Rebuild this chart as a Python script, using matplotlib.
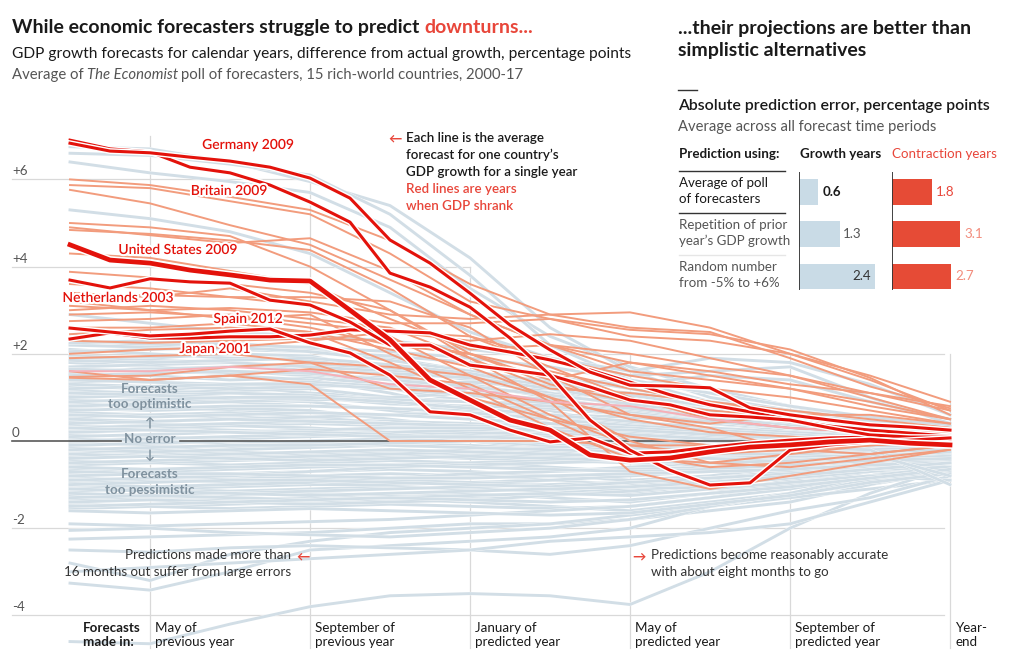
import matplotlib
matplotlib.use("Agg")
import matplotlib.pyplot as plt
import matplotlib.patheffects as pe

W, H = 1022, 663
plt.rcParams['font.family'] = ['Lato', 'DejaVu Sans']

# ---------------- data ----------------
# x = months, 0 = March of previous year ... 22 = year-end
MONTHS = list(range(23))
MONTHS_COARSE = [0, 2, 4, 6, 8, 10, 12, 14, 16, 18, 20, 22]

tick_months = [2, 6, 10, 14, 18, 22]
tick_labels = [("May of", "previous year"), ("September of", "previous year"),
               ("January of", "predicted year"), ("May of", "predicted year"),
               ("September of", "predicted year"), ("Year-", "end")]
y_ticks = [6, 4, 2, 0, -2, -4]
y_tick_labels = ["+6", "+4", "+2", "0", "-2", "-4"]

germany_2009 = [6.83, 6.65, 6.61, 6.51, 6.42, 6.28, 6.03, 5.57, 4.61, 4.08, 3.39, 2.66, 2.09, 1.58, 1.28, 1.26, 1.22, 0.76, 0.60, 0.48, 0.37, 0.32, 0.25]
britain_2009 = [6.90, 6.70, 6.63, 6.28, 6.15, 5.87, 5.48, 5.02, 3.85, 3.53, 3.07, 2.36, 1.51, 0.48, -0.21, -0.67, -1.01, -0.96, -0.21, -0.09, -0.02, 0.02, 0.07]
us_2009 = [4.50, 4.15, 4.08, 3.92, 3.81, 3.69, 3.67, 3.00, 2.32, 1.40, 0.94, 0.48, 0.25, -0.32, -0.44, -0.39, -0.25, -0.14, -0.09, -0.02, 0.02, -0.05, -0.09]
netherlands_2003 = [3.69, 3.51, 3.72, 3.65, 3.62, 3.23, 3.12, 2.73, 2.20, 2.20, 1.74, 1.63, 1.51, 1.24, 0.94, 0.83, 0.60, 0.55, 0.48, 0.30, 0.14, 0.09, 0.09]
spain_2012 = [2.59, 2.50, 2.41, 2.45, 2.52, 2.57, 2.25, 2.02, 1.51, 0.67, 0.60, 0.25, -0.02, 0.07, -0.28, -0.25, -0.14, -0.05, 0.02, 0.07, 0.09, 0.07, 0.02]
japan_2001 = [2.34, 2.48, 2.36, 2.36, 2.39, 2.39, 2.43, 2.55, 2.52, 2.48, 2.20, 2.04, 1.86, 1.63, 1.35, 1.06, 0.83, 0.67, 0.48, 0.34, 0.25, 0.18, 0.11]

# other contraction years (every two months)
contraction_other = [
    [6.00, 5.87, 5.60, 5.30, 4.60, 3.60, 2.90, 2.60, 2.50, 1.90, 1.25, 0.75],
    [5.87, 5.80, 5.50, 5.20, 4.30, 3.20, 2.80, 2.55, 2.45, 2.10, 1.45, 0.60],
    [5.76, 5.45, 4.95, 4.50, 3.70, 2.90, 2.20, 1.60, 1.40, 1.20, 0.90, 0.50],
    [4.90, 4.72, 4.54, 4.65, 3.90, 2.90, 2.20, 1.80, 1.50, 1.20, 0.80, 0.50],
    [4.84, 4.75, 4.60, 4.38, 3.50, 2.40, 1.90, 1.50, 1.20, 1.00, 0.70, 0.40],
    [3.88, 3.75, 3.60, 3.40, 3.00, 2.00, 1.30, 0.90, 0.70, 0.55, 0.40, 0.30],
    [3.40, 3.30, 3.50, 3.20, 2.90, 2.80, 2.90, 2.95, 2.60, 2.00, 1.50, 0.90],
    [3.10, 3.00, 3.05, 2.95, 2.70, 2.70, 2.80, 2.40, 2.30, 2.00, 1.40, 0.70],
    [2.90, 2.95, 2.85, 2.60, 2.20, 2.00, 1.60, 1.20, 0.90, 0.60, 0.40, 0.25],
    [2.75, 2.80, 2.90, 2.70, 2.50, 2.30, 2.45, 2.30, 1.90, 1.50, 1.00, 0.50],
    [2.45, 2.55, 2.60, 2.50, 1.80, 1.00, 0.50, 0.10, -0.10, -0.20, -0.10, 0.00],
    [1.45, 1.40, 1.50, 1.30, 0.00, 0.00, 0.00, -0.10, -0.10, 0.00, 0.10, 0.05],
    [1.90, 1.95, 2.00, 1.80, 1.20, 1.10, 0.90, 0.60, 0.30, -0.20, -0.30, -0.10],
    [1.60, 1.40, 1.50, 1.65, 1.50, 1.30, 0.50, -0.30, -0.60, -0.50, -0.30, -0.10],
    [1.47, 1.50, 1.70, 1.80, 1.70, 1.50, 1.00, 0.50, 0.20, 0.10, 0.00, 0.00],
    [2.60, 2.60, 2.70, 2.50, 2.10, 1.70, 1.00, 0.00, -0.50, -0.60, -0.40, -0.20],
    [3.00, 3.10, 3.00, 2.80, 2.60, 1.90, 0.90, -0.70, -1.10, -0.80, -0.50, -0.20],
    [3.60, 3.50, 3.30, 3.10, 2.40, 1.50, 0.60, -0.10, -0.30, -0.20, 0.00, 0.10],
    [5.00, 4.90, 4.70, 4.00, 3.00, 1.90, 1.20, 1.10, 0.90, 0.70, 0.50, 0.30],
    [4.30, 4.20, 3.90, 3.60, 2.80, 2.10, 2.20, 2.00, 1.70, 1.50, 1.10, 0.80],
    [3.30, 3.35, 3.30, 3.30, 3.20, 2.60, 1.50, 0.60, 0.40, 0.60, 0.60, 0.40],
    [2.00, 2.10, 2.15, 2.30, 2.50, 2.40, 1.70, 1.00, 0.50, 0.30, 0.20, 0.20],
    [2.30, 2.25, 2.30, 2.35, 2.30, 2.00, 1.40, 1.80, 1.60, 1.30, 1.10, 0.70],
    [3.20, 3.00, 2.80, 2.90, 2.00, 1.20, 0.30, -0.40, -0.50, -0.30, -0.10, 0.00],
]
contraction_pink = [1.60, 1.60, 1.70, 1.60, 1.30, 1.20, 0.90, 0.80, 0.50, 0.30, 0.20, 0.10]

growth_years = [
    [6.40, 6.15, 5.95, 5.70, 4.90, 3.50, 2.40, 1.70, 1.20, 0.80, 0.50, 0.30],
    [6.75, 6.70, 6.40, 5.95, 5.40, 4.20, 2.60, 1.60, 1.00, 0.70, 0.40, 0.20],
    [6.60, 6.55, 6.35, 6.10, 5.20, 3.80, 2.20, 1.40, 0.90, 0.50, 0.30, 0.10],
    [5.30, 5.10, 4.80, 4.30, 3.40, 2.50, 1.90, 1.50, 1.60, 1.70, 1.00, 0.40],
    [2.90, 2.70, 2.50, 2.40, 2.30, 2.10, 1.90, 1.60, 1.90, 1.80, 1.30, 0.60],
    [2.30, 2.20, 2.25, 2.10, 1.90, 1.60, 1.30, 1.40, 1.10, 0.80, 0.50, 0.30],
    [2.10, 2.00, 1.90, 1.85, 1.70, 1.50, 1.20, 0.90, 0.60, 0.40, 0.30, 0.20],
    [1.95, 1.90, 2.00, 1.95, 1.60, 1.10, 0.80, 0.60, 0.50, 0.40, 0.25, 0.10],
    [1.80, 1.70, 1.60, 1.50, 1.45, 1.30, 1.00, 0.70, 0.45, 0.30, 0.20, 0.05],
    [1.70, 1.75, 1.80, 1.60, 1.20, 0.90, 0.70, 0.30, 0.10, 0.00, -0.05, -0.10],
    [1.55, 1.50, 1.40, 1.45, 1.30, 1.20, 1.10, 1.00, 0.80, 0.50, 0.35, 0.25],
    [1.45, 1.35, 1.25, 1.10, 1.00, 0.90, 0.60, 0.30, 0.20, 0.10, 0.00, -0.05],
    [1.35, 1.40, 1.50, 1.40, 1.10, 0.70, 0.40, 0.20, 0.10, 0.05, 0.10, 0.00],
    [1.25, 1.20, 1.10, 1.00, 0.85, 0.80, 0.75, 0.60, 0.40, 0.25, 0.15, 0.10],
    [1.15, 1.10, 1.15, 1.20, 1.00, 0.60, 0.20, -0.10, -0.20, -0.20, -0.10, -0.10],
    [1.05, 1.00, 0.90, 0.80, 0.75, 0.70, 0.50, 0.40, 0.30, 0.20, 0.10, 0.05],
    [0.95, 0.90, 0.95, 0.90, 0.70, 0.50, 0.30, 0.10, 0.00, -0.10, -0.15, -0.20],
    [0.85, 0.80, 0.70, 0.65, 0.60, 0.55, 0.60, 0.55, 0.40, 0.30, 0.20, 0.15],
    [0.75, 0.70, 0.75, 0.70, 0.50, 0.30, 0.10, -0.10, -0.30, -0.35, -0.30, -0.25],
    [0.65, 0.60, 0.55, 0.50, 0.45, 0.40, 0.30, 0.20, 0.10, 0.10, 0.05, 0.00],
    [0.55, 0.60, 0.65, 0.55, 0.40, 0.20, 0.00, -0.20, -0.40, -0.45, -0.35, -0.30],
    [0.45, 0.40, 0.35, 0.40, 0.35, 0.30, 0.25, 0.15, 0.05, 0.00, -0.05, -0.05],
    [0.35, 0.30, 0.25, 0.20, 0.20, 0.15, 0.10, 0.00, -0.10, -0.15, -0.10, -0.10],
    [0.25, 0.30, 0.35, 0.30, 0.20, 0.00, -0.20, -0.35, -0.40, -0.30, -0.20, -0.15],
    [0.15, 0.10, 0.05, 0.10, 0.15, 0.20, 0.15, 0.10, 0.05, 0.05, 0.00, 0.00],
    [0.05, 0.00, -0.05, 0.00, 0.05, 0.00, -0.10, -0.20, -0.25, -0.20, -0.15, -0.10],
    [-0.05, -0.10, -0.15, -0.10, -0.05, -0.10, -0.20, -0.30, -0.35, -0.40, -0.30, -0.20],
    [-0.15, -0.20, -0.10, -0.05, 0.00, 0.05, 0.10, 0.05, 0.00, -0.05, -0.05, -0.05],
    [-0.25, -0.30, -0.35, -0.30, -0.35, -0.40, -0.45, -0.50, -0.55, -0.50, -0.40, -0.30],
    [-0.35, -0.30, -0.25, -0.30, -0.25, -0.20, -0.15, -0.10, -0.20, -0.25, -0.20, -0.15],
    [-0.45, -0.50, -0.55, -0.50, -0.45, -0.50, -0.60, -0.70, -0.60, -0.50, -0.40, -0.35],
    [-0.55, -0.50, -0.45, -0.40, -0.35, -0.30, -0.35, -0.40, -0.30, -0.20, -0.10, -0.05],
    [-0.65, -0.70, -0.75, -0.70, -0.65, -0.70, -0.80, -0.90, -0.80, -0.60, -0.50, -0.40],
    [-0.75, -0.70, -0.65, -0.60, -0.55, -0.50, -0.45, -0.40, -0.35, -0.30, -0.25, -0.20],
    [-0.85, -0.90, -0.85, -0.80, -0.75, -0.80, -0.90, -1.00, -0.90, -0.70, -0.60, -0.55],
    [-0.95, -0.90, -0.95, -1.00, -0.90, -0.80, -0.70, -0.60, -0.50, -0.40, -0.30, -0.25],
    [-1.05, -1.10, -1.15, -1.10, -1.05, -1.10, -1.15, -1.20, -1.00, -0.80, -0.70, -0.75],
    [-1.15, -1.10, -1.05, -1.00, -1.00, -0.95, -0.90, -0.80, -0.70, -0.60, -0.50, -0.40],
    [-1.25, -1.30, -1.35, -1.30, -1.25, -1.20, -1.30, -1.40, -1.20, -0.90, -0.60, -0.35],
    [-1.35, -1.30, -1.25, -1.20, -1.25, -1.30, -1.20, -1.10, -0.95, -0.80, -0.90, -0.60],
    [-1.45, -1.50, -1.45, -1.40, -1.35, -1.40, -1.50, -1.60, -1.40, -1.20, -1.00, -0.70],
    [-1.55, -1.50, -1.55, -1.50, -1.45, -1.50, -1.55, -1.50, -1.30, -1.00, -0.70, -0.45],
    [-1.90, -1.95, -1.90, -1.85, -1.80, -1.70, -1.60, -1.50, -1.30, -1.10, -0.80, -0.50],
    [-2.25, -2.20, -2.15, -2.10, -2.00, -1.90, -1.90, -1.80, -1.60, -1.40, -1.00, -0.60],
    [-2.80, -3.20, -2.60, -2.30, -2.10, -2.00, -1.90, -1.70, -1.50, -1.30, -1.10, -0.90],
    [-3.26, -3.42, -3.00, -2.50, -2.40, -2.30, -2.20, -2.00, -1.50, -1.20, -0.90, -0.70],
    [-4.60, -4.65, -4.20, -3.80, -3.55, -3.50, -3.55, -3.75, -3.00, -2.00, -1.20, -0.60],
    [-2.50, -2.55, -2.45, -2.40, -2.45, -2.50, -2.60, -2.40, -2.00, -1.60, -1.30, -0.80],
    [-3.00, -2.90, -2.80, -2.70, -2.60, -2.50, -2.30, -2.20, -2.10, -1.90, -1.40, -0.90],
    [-2.05, -2.00, -2.10, -2.15, -2.20, -2.10, -2.00, -1.80, -1.50, -1.20, -0.80, -0.40],
    [2.20, 2.15, 2.10, 2.05, 1.95, 1.80, 1.50, 1.20, 0.90, 0.60, 0.40, 0.25],
    [1.60, 1.65, 1.70, 1.75, 1.65, 1.40, 1.10, 0.80, 0.60, 0.50, 0.40, 0.30],
    [1.00, 1.05, 1.10, 1.05, 0.95, 0.90, 0.85, 0.70, 0.55, 0.45, 0.30, 0.20],
    [0.50, 0.45, 0.50, 0.55, 0.60, 0.65, 0.50, 0.30, 0.10, 0.00, -0.10, -0.15],
    [0.00, 0.05, 0.10, 0.15, 0.20, 0.25, 0.30, 0.20, 0.10, 0.00, -0.05, -0.10],
    [-0.50, -0.45, -0.40, -0.35, -0.30, -0.25, -0.20, -0.25, -0.30, -0.35, -0.30, -0.25],
    [-1.00, -1.05, -1.00, -0.95, -0.85, -0.75, -0.70, -0.65, -0.60, -0.55, -0.50, -0.45],
    [-1.40, -1.35, -1.40, -1.45, -1.40, -1.35, -1.25, -1.15, -1.00, -0.85, -0.70, -0.55],
    [1.90, 1.85, 1.80, 1.70, 1.60, 1.50, 1.40, 1.30, 1.50, 1.40, 0.90, 0.50],
    [0.80, 0.85, 0.90, 0.95, 1.00, 1.10, 1.20, 1.00, 0.70, 0.40, 0.20, 0.10],
    [-0.20, -0.25, -0.20, -0.15, -0.10, -0.15, -0.25, -0.40, -0.60, -0.70, -0.60, -0.50],
    [-0.70, -0.75, -0.80, -0.85, -0.90, -0.95, -1.00, -1.05, -1.10, -1.00, -0.80, -0.60],
    [1.30, 1.25, 1.20, 1.25, 1.30, 1.35, 1.25, 1.10, 0.90, 0.70, 0.50, 0.35],
    [0.30, 0.35, 0.40, 0.45, 0.40, 0.35, 0.20, 0.10, 0.20, 0.30, 0.20, 0.10],
    [-0.90, -0.85, -0.80, -0.70, -0.60, -0.55, -0.50, -0.45, -0.40, -0.35, -0.35, -0.30],
    [-1.20, -1.25, -1.20, -1.15, -1.10, -1.05, -1.00, -0.95, -0.85, -0.70, -0.50, -0.30],
    [2.25, 2.30, 2.20, 2.15, 2.05, 1.90, 1.70, 1.40, 1.10, 0.80, 0.55, 0.35],
    [2.05, 2.10, 2.15, 2.05, 1.85, 1.60, 1.35, 1.05, 0.80, 0.60, 0.45, 0.30],
    [1.85, 1.80, 1.85, 1.90, 1.75, 1.55, 1.25, 0.95, 0.70, 0.50, 0.35, 0.20],
    [1.65, 1.60, 1.55, 1.60, 1.55, 1.45, 1.20, 0.90, 0.65, 0.45, 0.30, 0.15],
    [1.50, 1.55, 1.60, 1.55, 1.40, 1.25, 1.05, 0.85, 0.65, 0.40, 0.20, 0.05],
    [1.40, 1.35, 1.30, 1.35, 1.25, 1.10, 0.95, 0.75, 0.55, 0.35, 0.20, 0.10],
    [1.20, 1.25, 1.30, 1.30, 1.20, 1.05, 0.85, 0.65, 0.45, 0.30, 0.15, 0.05],
    [1.10, 1.05, 1.00, 0.95, 0.95, 0.90, 0.80, 0.60, 0.45, 0.30, 0.20, 0.10],
    [0.90, 0.95, 1.00, 1.00, 0.90, 0.75, 0.60, 0.45, 0.30, 0.20, 0.10, 0.00],
    [0.70, 0.75, 0.80, 0.80, 0.75, 0.65, 0.50, 0.35, 0.25, 0.15, 0.05, -0.05],
    [0.60, 0.55, 0.60, 0.65, 0.60, 0.50, 0.40, 0.30, 0.20, 0.10, 0.00, -0.10],
    [0.40, 0.45, 0.50, 0.45, 0.40, 0.35, 0.30, 0.25, 0.15, 0.05, -0.05, -0.15],
    [0.20, 0.25, 0.20, 0.25, 0.30, 0.30, 0.25, 0.15, 0.05, -0.05, -0.10, -0.20],
    [0.10, 0.15, 0.20, 0.20, 0.15, 0.05, -0.05, -0.15, -0.20, -0.25, -0.20, -0.15],
    [-0.10, -0.05, 0.00, -0.05, -0.10, -0.15, -0.20, -0.25, -0.30, -0.30, -0.25, -0.20],
    [-0.30, -0.35, -0.30, -0.25, -0.20, -0.25, -0.30, -0.35, -0.40, -0.45, -0.40, -0.35],
    [-0.40, -0.35, -0.40, -0.45, -0.40, -0.35, -0.40, -0.45, -0.50, -0.45, -0.35, -0.25],
    [-0.60, -0.65, -0.60, -0.55, -0.55, -0.60, -0.65, -0.70, -0.65, -0.55, -0.45, -0.40],
    [-0.80, -0.75, -0.75, -0.80, -0.85, -0.85, -0.80, -0.75, -0.70, -0.65, -0.55, -0.50],
    [-1.00, -0.95, -0.90, -0.90, -0.95, -1.00, -1.05, -0.95, -0.85, -0.75, -0.65, -0.60],
    [-1.10, -1.15, -1.20, -1.25, -1.20, -1.15, -1.10, -1.05, -0.95, -0.80, -0.65, -0.50],
    [-1.30, -1.25, -1.30, -1.35, -1.30, -1.25, -1.20, -1.25, -1.10, -0.95, -0.80, -0.90],
    [-1.50, -1.45, -1.40, -1.35, -1.30, -1.35, -1.40, -1.35, -1.20, -1.05, -0.85, -0.65],
    [-1.60, -1.65, -1.60, -1.55, -1.60, -1.65, -1.70, -1.65, -1.45, -1.25, -0.95, -0.75],
    [-0.20, -0.15, -0.10, -0.10, -0.05, 0.00, 0.00, -0.05, -0.10, -0.15, -0.20, -1.00],
    [0.30, 0.25, 0.20, 0.15, 0.10, 0.10, 0.05, 0.00, -0.10, -0.20, -0.30, -0.80],
]

# right-hand table
table_methods = [("Average of poll", "of forecasters"),
                 ("Repetition of prior", "year\u2019s GDP growth"),
                 ("Random number", "from -5% to +6%")]
growth_err = [0.6, 1.3, 2.4]
contraction_err = [1.8, 3.1, 2.7]

# ---------------- style ----------------
RED = '#e3120b'
RED_TXT = '#e8463a'
SALMON = '#f29c7d'
GREY_LINE = '#d2dee6'
GRID = '#d9d9d9'
TXT = '#1a1a1a'
TXT2 = '#555555'

fig = plt.figure(figsize=(W / 100, H / 100), dpi=100)
fig.patch.set_facecolor('white')

# main axes: 1 month = 40 px, month 0 at x=70 px; 1 pp = 43.6 px, 0 at y=441 px
ax = fig.add_axes([0, 0, 1, 1])
ax.set_xlim(-70 / 40, (W - 70) / 40)
ax.set_ylim((441 - H) / 43.6, 441 / 43.6)
ax.axis('off')
ax.patch.set_alpha(0)


def px_x(p):
    return (p - 70) / 40


def px_y(p):
    return (441 - p) / 43.6


# horizontal gridlines (step-clipped as in the original)
h_ext = {6: 6, 4: 10, 2: 21.85, -2: 21.85, -4: 21.85}
for v in [6, 4, 2, -2, -4]:
    ax.plot([px_x(12), h_ext[v]], [v, v], color=GRID, lw=0.9, zorder=1)
v_top = {2: 7.0, 6: 6.0, 10: 4.0, 14: 2.0, 18: 2.0, 22: 2.0}
for m in tick_months:
    ax.plot([m, m], [px_y(648), v_top[m]], color=GRID, lw=0.9, zorder=1)

# grey lines (growth years)
grey_fx = [pe.Stroke(linewidth=2.5, foreground='white'), pe.Normal()]
for ys in growth_years:
    ax.plot(MONTHS_COARSE, ys, color=GREY_LINE, lw=2.1, zorder=2,
            solid_joinstyle='round', path_effects=grey_fx)

# zero line, broken around "No error"
ax.plot([px_x(12), px_x(121)], [0, 0], color='#595959', lw=1.2, zorder=3)
ax.plot([px_x(180), 22], [0, 0], color='#595959', lw=1.2, zorder=3)

# other contraction years
for ys in contraction_other:
    ax.plot(MONTHS_COARSE, ys, color=SALMON, lw=1.4, zorder=4, solid_joinstyle='round')
ax.plot(MONTHS_COARSE, contraction_pink, color='#f6b0b8', lw=1.4, zorder=4)

# highlighted contraction years
red_fx = [pe.Stroke(linewidth=4.2, foreground='white'), pe.Normal()]
for ys in [japan_2001, spain_2012, netherlands_2003, britain_2009, germany_2009]:
    ax.plot(MONTHS, ys, color=RED, lw=2.2, zorder=5, solid_joinstyle='round',
            path_effects=red_fx)
ax.plot(MONTHS, us_2009, color=RED, lw=3.4, zorder=6, solid_joinstyle='round',
        path_effects=[pe.Stroke(linewidth=5.6, foreground='white'), pe.Normal()])


# ---------------- text helpers ----------------
def T(x, y, s, size=10, color=TXT, weight='normal', ha='left', va='baseline', **kw):
    return fig.text(x / W, 1 - y / H, s, fontsize=size, color=color, weight=weight,
                    ha=ha, va=va, **kw)


def chain(x, y, parts, size):
    r = fig.canvas.get_renderer()
    for s, kw, gap in parts:
        t = T(x, y, s, size=size, **kw)
        bb = t.get_window_extent(renderer=r)
        x = bb.x1 + gap


halo = [pe.withStroke(linewidth=3, foreground='white')]

# titles
chain(12, 33, [("While economic forecasters struggle to predict", dict(weight='bold'), 4.8),
               ("downturns...", dict(weight='bold', color=RED_TXT), 0)], 14.0)
T(12, 58, "GDP growth forecasts for calendar years, difference from actual growth, percentage points",
  size=11.2, color=TXT)
chain(12, 79, [("Average of", dict(color=TXT2), 3.3),
               ("The Economist", dict(color=TXT2, style='italic'), 3.3),
               ("poll of forecasters, 15 rich-world countries, 2000-17", dict(color=TXT2), 0)], 10.75)

T(678, 34, "...their projections are better than", size=14.0, weight='bold')
T(678, 56, "simplistic alternatives", size=14.0, weight='bold')
fig.add_artist(plt.Line2D([678 / W, 697 / W], [1 - 90 / H, 1 - 90 / H], color='#333333', lw=1.0))
T(678, 110, "Absolute prediction error, percentage points", size=11.4, weight='semibold')
T(678, 131, "Average across all forecast time periods", size=10.65, color=TXT2)

# table
T(679, 158, "Prediction using:", size=9.6, weight='bold')
T(800, 158, "Growth years", size=9.6, weight='bold')
T(892, 158, "Contraction years", size=9.6, color=RED_TXT)
row_cols = [TXT, TXT2, TXT2]
row_base = [187, 229, 271]
for (l1, l2), yb, c in zip(table_methods, row_base, row_cols):
    T(679, yb, l1, size=9.6, color=c)
    T(679, yb + 16, l2, size=9.6, color=c)
for yy, c in [(171, '#333333'), (213, '#333333'), (255, '#e6e6e6')]:
    fig.add_artist(plt.Line2D([679 / W, 785 / W], [1 - yy / H, 1 - yy / H], color=c, lw=1.0))

rows = [0, 1, 2]
gax = fig.add_axes([799 / W, 1 - 290 / H, 91 / W, 118 / H])
gax.barh(rows, growth_err, height=0.6, color='#c9dbe6', zorder=2)
gax.set_xlim(0, 91 / 31.7)
gax.set_ylim(2.33, -0.476)
gax.axvline(0, color='#333333', lw=1.3, zorder=3)
gax.axis('off')
gax.text(growth_err[0] + 0.13, 0, f"{growth_err[0]}", va='center', ha='left', fontsize=9.6,
         weight='bold', color=TXT)
gax.text(growth_err[1] + 0.1, 1, f"{growth_err[1]}", va='center', ha='left', fontsize=9.6, color=TXT2)
gax.text(growth_err[2] - 0.13, 2, f"{growth_err[2]}", va='center', ha='right', fontsize=9.6, color='#333333')

cax = fig.add_axes([892 / W, 1 - 290 / H, 118 / W, 118 / H])
cax.barh(rows, contraction_err, height=0.6, color='#e64b36', zorder=2)
cax.set_xlim(0, 118 / 22.0)
cax.set_ylim(2.33, -0.476)
cax.axvline(0, color='#333333', lw=1.3, zorder=3)
cax.axis('off')
cax_cols = ['#e8463a', '#f28c7c', '#f28c7c']
for r_, v, c in zip(rows, contraction_err, cax_cols):
    cax.text(v + 0.2, r_, f"{v}", va='center', ha='left', fontsize=9.6, color=c)

# y tick labels
for v, lab in zip(y_ticks, y_tick_labels):
    T(12, 441 - 43.6 * v - 4, lab, size=9.6, color=TXT2)

# x labels
T(83, 632, "Forecasts", size=9.6, weight='bold')
T(83, 646, "made in:", size=9.6, weight='bold')
for m, (l1, l2) in zip(tick_months, tick_labels):
    xp = 70 + 40 * m + 5
    T(xp, 632, l1, size=9.6)
    T(xp, 646, l2, size=9.6)

# line labels
for s, x, y in [("Germany 2009", 248, 149), ("Britain 2009", 229, 195),
                ("United States 2009", 178, 254), ("Netherlands 2003", 118, 302),
                ("Spain 2012", 248, 323), ("Japan 2001", 215, 353)]:
    t = T(x, y, s, size=10, color=RED, weight='semibold', ha='center')
    t.set_path_effects(halo)
    t.set_zorder(10)

# annotations
T(388, 142, "\u2190", size=9.6, color=RED_TXT, weight='bold')
for s, y in [("Each line is the average", 142), ("forecast for one country\u2019s", 159),
             ("GDP growth for a single year", 176)]:
    T(406, y, s, size=9.6, weight='semibold')
for s, y in [("Red lines are years", 193), ("when GDP shrank", 210)]:
    T(406, y, s, size=9.6, weight='semibold', color=RED_TXT)

BLUEGREY = '#7f919e'
for s, y in [("Forecasts", 393), ("too optimistic", 408), ("\u2191", 427), ("No error", 443),
             ("\u2193", 459), ("Forecasts", 478), ("too pessimistic", 494)]:
    T(150, y, s, size=9.6, weight='bold', color=BLUEGREY, ha='center', zorder=8)

T(291, 559, "Predictions made more than", size=9.6, color='#333333', ha='right')
T(291, 576, "16 months out suffer from large errors", size=9.6, color='#333333', ha='right')
T(296, 560, "\u2190", size=9.6, color=RED_TXT, weight='bold')
T(632, 560, "\u2192", size=9.6, color=RED_TXT, weight='bold')
T(651, 559, "Predictions become reasonably accurate", size=9.6, color='#333333')
T(651, 576, "with about eight months to go", size=9.6, color='#333333')

fig.savefig("out.png", dpi=100, facecolor='white')
